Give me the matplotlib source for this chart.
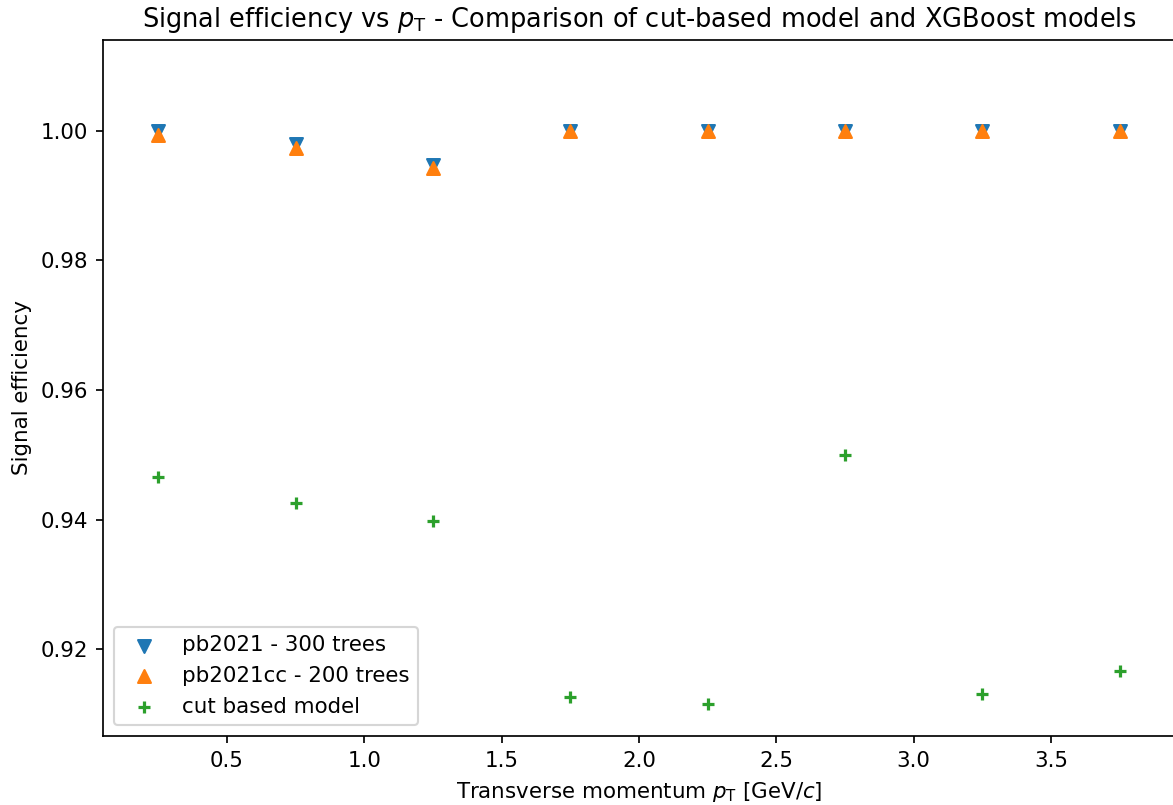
import matplotlib
matplotlib.use("Agg")
import matplotlib.pyplot as plt

## DATI ##
pt = [0.25, 0.75, 1.25, 1.75, 2.25, 2.75, 3.25, 3.75]
eff_pb2021 = [1.0, 0.9980, 0.9947, 1.0, 1.0, 1.0, 1.0, 1.0]
eff_pb2021cc = [0.9994, 0.9974, 0.9943, 1.0, 1.0, 1.0, 1.0, 1.0]
eff_cut = [0.9466, 0.9425, 0.9398, 0.9126, 0.9115, 0.9499, 0.9131, 0.9166]

dpi = 154
fig = plt.figure(figsize=(1173/dpi, 805/dpi), dpi=dpi)
ax = fig.add_axes([0.0878, 0.0857, 0.9139, 0.8646])

ax.scatter(pt, eff_pb2021, marker='v', color='tab:blue', label='pb2021 - 300 trees')
ax.scatter(pt, eff_pb2021cc, marker='^', color='tab:orange', label='pb2021cc - 200 trees')
ax.scatter(pt, eff_cut, marker='+', color='tab:green', label='cut based model')

ax.set_xlim(0.049, 3.951)
ax.set_ylim(0.9066, 1.0140)
ax.set_yticks([0.92, 0.94, 0.96, 0.98, 1.00])
ax.set_xticks([0.5, 1.0, 1.5, 2.0, 2.5, 3.0, 3.5])

ax.set_title(r"Signal efficiency vs $p_{\mathrm{T}}$ - Comparison of cut-based model and XGBoost models")
ax.set_xlabel(r"Transverse momentum $p_{\mathrm{T}}$ [GeV/$c$]")
ax.set_ylabel("Signal efficiency")
ax.legend(loc='lower left')

fig.savefig("out.png", dpi=dpi)
